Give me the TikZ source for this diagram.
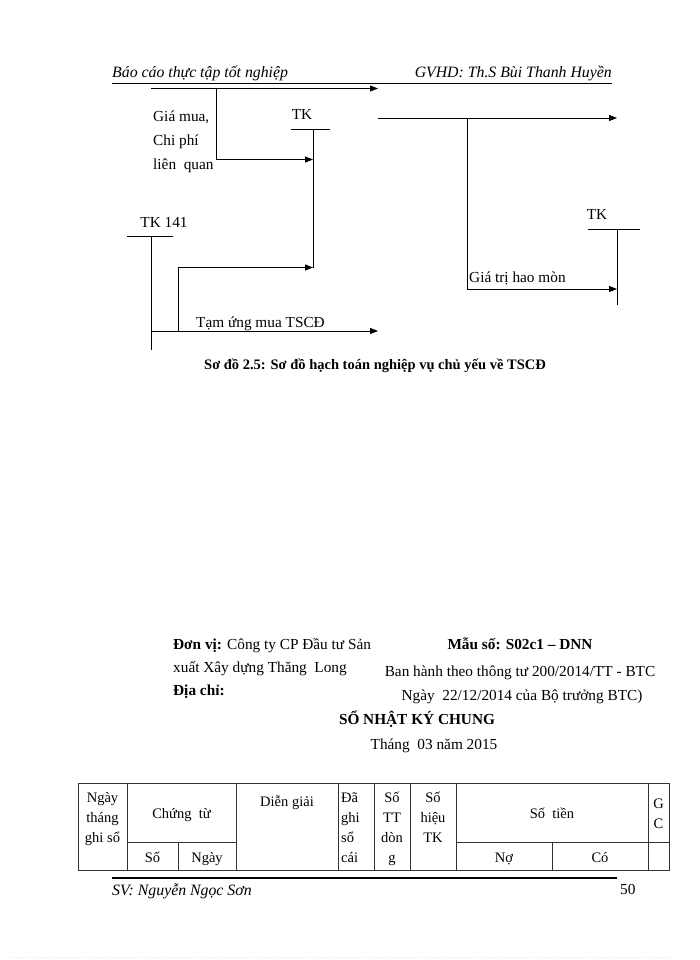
\documentclass[tikz,border=0pt]{standalone}
\usepackage{fontspec}
\setmainfont{Liberation Serif}
\usetikzlibrary{arrows.meta}
\newcommand\vlinesc[1]{\vtop{\baselineskip=20pt\lineskiplimit=-100pt\halign{\hfil##\hfil\cr#1\crcr}}}
\newcommand\vlinesl[1]{\vtop{\baselineskip=20pt\lineskiplimit=-100pt\halign{##\hfil\cr#1\crcr}}}
\begin{document}
\begin{tikzpicture}[x=1pt,y=-1pt,
  ln/.style={line width=0.9pt, draw=black},
  arr/.style={ln, -{Triangle[length=8pt,width=6pt]}},
  body/.style={inner sep=0pt, font=\fontsize{15.3}{18}\selectfont},
  hdr/.style={inner sep=0pt, font=\fontsize{15.8}{18}\selectfont\itshape},
  cell/.style={inner sep=0pt, font=\fontsize{14.5}{20}\selectfont},
  tab/.style={line width=1pt, draw=black!80},
  rule/.style={line width=1.6pt, draw=black}
]
\useasboundingbox (0,0) rectangle (700,960);
\fill[white] (0,0) rectangle (700,960);

% ---------- page header ----------
\node[hdr, anchor=base west] (hl) at (112,78) {Báo cáo thực tập tốt nghiệp};
\node[hdr, anchor=base east] (hr) at (612,78) {GVHD: Th.S Bùi Thanh Huyền};
\coordinate (hA) at (112,83.5);
\coordinate (hB) at (612,83.5);
\draw[rule] (hA) -- (hB);

% ---------- diagram ----------
\coordinate (a1) at (151,88.5);
\coordinate (a2) at (378,88.5);
\draw[arr] (a1) -- (a2);

\coordinate (b1) at (216,88.5);
\coordinate (b2) at (216,159.5);
\coordinate (b3) at (313,159.5);
\draw[arr] (b1) -- (b2) -- (b3);

\node[body, anchor=base west] (g1) at (153,122) {Giá mua,};
\node[body, anchor=base west] (g2) at (153,146) {Chi phí};
\node[body, anchor=base west] (g3) at (153,170) {liên~ quan};

% TK (middle)
\node[body, anchor=base] (tk1) at (302,120) {TK};
\coordinate (t1L) at (291,129.5);
\coordinate (t1R) at (330,129.5);
\coordinate (t1T) at (313,129.5);
\coordinate (t1B) at (313,267.5);
\draw[ln] (t1L) -- (t1R);
\draw[ln] (t1T) -- (t1B);

% TK 141
\node[body, anchor=base] (tk141) at (164,227) {TK 141};
\coordinate (t2L) at (127,236);
\coordinate (t2R) at (173,236);
\coordinate (t2T) at (151,236);
\coordinate (t2B) at (151,350);
\draw[ln] (t2L) -- (t2R);
\draw[ln] (t2T) -- (t2B);

\coordinate (c1) at (178,331);
\coordinate (c2) at (178,267.5);
\draw[arr] (c1) -- (c2) -- (t1B);

\coordinate (d1) at (151,331);
\coordinate (d2) at (378,331);
\draw[arr] (d1) -- (d2);
\node[body, anchor=base west] (tu) at (196,327) {Tạm ứng mua TSCĐ};

% right part
\coordinate (e1) at (378,118);
\coordinate (e2) at (617,118);
\draw[arr] (e1) -- (e2);
\coordinate (f1) at (467,118);
\coordinate (f2) at (467,289);
\coordinate (f3) at (617,289);
\draw[arr] (f1) -- (f2) -- (f3);
\node[body, anchor=base west] (hm) at (469,282) {Giá trị hao mòn};

\node[body, anchor=base] (tk3) at (597,219) {TK};
\coordinate (t3L) at (588,229);
\coordinate (t3R) at (640,229);
\coordinate (t3T) at (617,229);
\coordinate (t3B) at (617,305);
\draw[ln] (t3L) -- (t3R);
\draw[ln] (t3T) -- (t3B);

\node[inner sep=0pt, anchor=base, font=\fontsize{14.5}{18}\selectfont\bfseries] (cap) at (375,369)
  {Sơ đồ 2.5: Sơ đồ hạch toán nghiệp vụ chủ yếu về TSCĐ};

% ---------- journal heading ----------
\node[body, anchor=base west] (dv1) at (173,649) {\textbf{Đơn vị:} Công ty CP Đầu tư Sản};
\node[body, anchor=base west] (dv2) at (173,672) {xuất Xây dựng Thăng~ Long};
\node[body, anchor=base west] (dc) at (173,695) {\textbf{Địa chỉ:}};

\node[body, anchor=base] (ms) at (520,649) {\textbf{Mẫu số: S02c1 – DNN}};
\node[body, anchor=base] (bh) at (520,676) {Ban hành theo thông tư 200/2014/TT - BTC};
\node[body, anchor=base] (ng) at (522,700) {Ngày~ 22/12/2014 của Bộ trưởng BTC)};
\node[body, anchor=base] (snkc) at (417,724) {\textbf{SỔ NHẬT KÝ CHUNG}};
\node[body, anchor=base] (thg) at (434,749) {Tháng~ 03 năm 2015};

% ---------- table ----------
\coordinate (T00) at (78,783);
\coordinate (T11) at (669,870);
\draw[tab] (T00) rectangle (T11);
\foreach \x in {127,236,338,374,410,456,648}{
  \draw[tab] (\x,783) -- (\x,870);
}
\coordinate (m1) at (127,842);
\coordinate (m2) at (236,842);
\coordinate (m3) at (456,842);
\coordinate (m4) at (669,842);
\draw[tab] (m1) -- (m2);
\draw[tab] (m3) -- (m4);
\coordinate (s1) at (178,842);
\coordinate (s2) at (178,870);
\coordinate (s3) at (552,842);
\coordinate (s4) at (552,870);
\draw[tab] (s1) -- (s2);
\draw[tab] (s3) -- (s4);

\node[cell, anchor=base] (c-ngay) at (102.5,802) {\vlinesc{Ngày\cr tháng\cr ghi sổ}};
\node[cell, anchor=base] (c-ct) at (181.5,818) {Chứng~ từ};
\node[cell, anchor=base] (c-so) at (152.5,862) {Số};
\node[cell, anchor=base] (c-ng) at (207,862) {Ngày};
\node[cell, anchor=base] (c-dg) at (287,806) {Diễn giải};
\node[cell, anchor=base west] (c-da) at (341,802) {\vlinesl{Đã\cr ghi\cr sổ\cr cái}};
\node[cell, anchor=base] (c-tt) at (392,802) {\vlinesc{Số\cr TT\cr dòn\cr g}};
\node[cell, anchor=base] (c-sh) at (433,802) {\vlinesc{Số\cr hiệu\cr TK}};
\node[cell, anchor=base] (c-st) at (552,818) {Số~ tiền};
\node[cell, anchor=base] (c-no) at (504,862) {Nợ};
\node[cell, anchor=base] (c-co) at (600,862) {Có};
\node[cell, anchor=base] (c-gc) at (658.5,808) {\vlinesc{G\cr C}};

% ---------- page footer ----------
\coordinate (fA) at (112,878);
\coordinate (fB) at (617,878);
\draw[line width=2pt] (fA) -- (fB);
\node[hdr, anchor=base west] (sv) at (112,895) {SV: Nguyễn Ngọc Sơn};
\node[body, anchor=base west] (pg) at (620,894) {50};

\coordinate (z1) at (12,957);
\coordinate (z2) at (674,957);
\draw[dotted, line width=0.8pt, draw=magenta!15] (z1) -- (z2);
\end{tikzpicture}
\end{document}
